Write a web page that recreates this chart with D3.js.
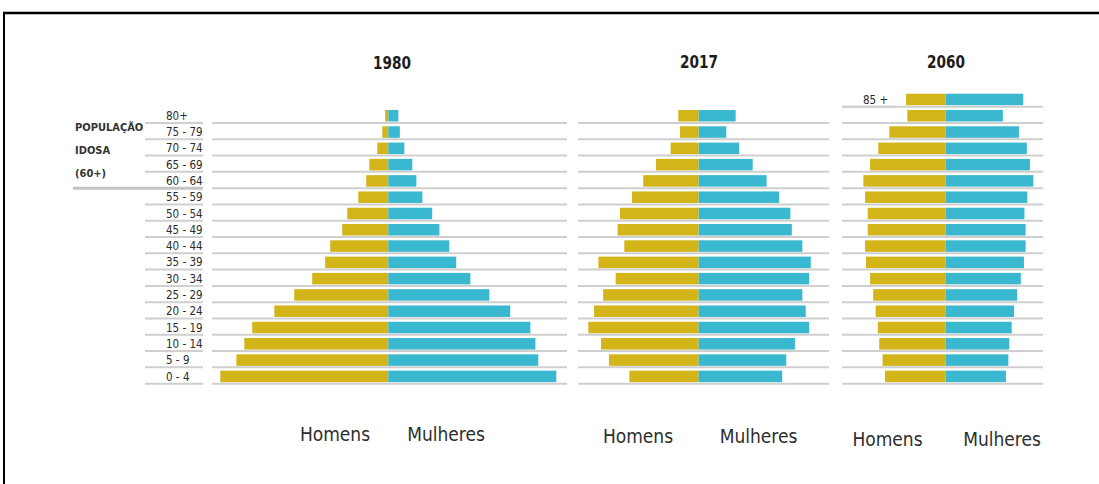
<!DOCTYPE html>
<html>
<head>
<meta charset="utf-8">
<script src="https://cdn.jsdelivr.net/npm/d3@7"></script>
<style>
  body { margin: 0; background: #fff; }
  svg { display: block; }
  text { font-family: "DejaVu Sans Condensed", "DejaVu Sans", sans-serif; fill: #2b2b2b; }
</style>
</head>
<body>
<svg id="chart" width="1099" height="484"></svg>
<script>
// age groups, top to bottom
const ages80 = ["80+", "75 - 79", "70 - 74", "65 - 69", "60 - 64", "55 - 59", "50 - 54", "45 - 49",
  "40 - 44", "35 - 39", "30 - 34", "25 - 29", "20 - 24", "15 - 19", "10 - 14", "5 - 9", "0 - 4"];
const ages85 = ["85 +", "80 - 84"].concat(ages80.slice(1));

// share of population (%)
const male1980   = [0.13, 0.25, 0.46, 0.79, 0.92, 1.25, 1.71, 1.92, 2.42, 2.63, 3.17, 3.92, 4.75, 5.67, 6.00, 6.33, 7.00];
const female1980 = [0.42, 0.48, 0.67, 1.00, 1.17, 1.42, 1.83, 2.13, 2.54, 2.83, 3.42, 4.21, 5.08, 5.92, 6.13, 6.25, 7.00];

const male2017   = [0.85, 0.78, 1.17, 1.78, 2.31, 2.78, 3.28, 3.38, 3.10, 4.18, 3.46, 3.98, 4.36, 4.60, 4.07, 3.74, 2.89];
const female2017 = [1.54, 1.15, 1.68, 2.25, 2.83, 3.35, 3.82, 3.88, 4.32, 4.67, 4.60, 4.32, 4.46, 4.60, 4.01, 3.65, 3.48];

const male2060   = [1.65, 1.60, 2.35, 2.81, 3.15, 3.43, 3.36, 3.25, 3.25, 3.36, 3.32, 3.15, 3.02, 2.92, 2.83, 2.77, 2.63, 2.53];
const female2060 = [3.23, 2.38, 3.05, 3.38, 3.51, 3.65, 3.40, 3.28, 3.33, 3.33, 3.26, 3.13, 2.98, 2.85, 2.75, 2.65, 2.61, 2.51];

const sexLabels = ["Homens", "Mulheres"];
const sideNote = ["POPULAÇÃO", "IDOSA", "(60+)"];

const colMale = "#d3b419";
const colFemale = "#3ab8cf";
const colGrid = "#cfcfcf";

const svg = d3.select("#chart");

// frame (top and left edge only are visible)
svg.append("line").attr("x1", 3).attr("x2", 1099).attr("y1", 13).attr("y2", 13)
  .attr("stroke", "#000").attr("stroke-width", 2.5);
svg.append("line").attr("x1", 4).attr("x2", 4).attr("y1", 12).attr("y2", 484)
  .attr("stroke", "#000").attr("stroke-width", 2);

// one shared row scale; row 0 only used by 2060 (85+)
const nRows = 18;
const rowStep = 16.29;
const y = d3.scaleBand()
  .domain(d3.range(nRows))
  .range([93.7, 93.7 + nRows * rowStep]);
const barH = 11.5;

// one shared value scale (% -> px half width)
const x = d3.scaleLinear().domain([0, 8]).range([0, 192]);

const panels = [
  { year: "1980", ages: ages80, male: male1980, female: female1980, first: 1,
    cx: 388.3, g0: 212, g1: 567, titleX: 392, titleY: 69, footY: 441, hx: 335, mx: 446 },
  { year: "2017", ages: ages80, male: male2017, female: female2017, first: 1,
    cx: 698.7, g0: 578, g1: 829, titleX: 699, titleY: 68, footY: 443, hx: 638, mx: 758.5 },
  { year: "2060", ages: ages85, male: male2060, female: female2060, first: 0,
    cx: 945.7, g0: 842, g1: 1043, titleX: 946, titleY: 68, footY: 446, hx: 887.5, mx: 1002 }
];

panels.forEach(p => {
  const g = svg.append("g").attr("class", "pyr-" + p.year);
  const rows = p.ages.map((a, i) => ({
    age: a, row: i + p.first, m: p.male[i], f: p.female[i]
  }));

  // grid lines under every row
  g.selectAll("line.grid")
    .data(rows)
    .enter().append("line")
    .attr("class", "grid")
    .attr("x1", p.g0).attr("x2", p.g1)
    .attr("y1", d => y(d.row) + 13).attr("y2", d => y(d.row) + 13)
    .attr("stroke", colGrid).attr("stroke-width", 2);

  g.selectAll("rect.male")
    .data(rows)
    .enter().append("rect")
    .attr("class", "male")
    .attr("x", d => p.cx - x(d.m))
    .attr("y", d => y(d.row))
    .attr("width", d => x(d.m))
    .attr("height", barH)
    .attr("fill", colMale);

  g.selectAll("rect.female")
    .data(rows)
    .enter().append("rect")
    .attr("class", "female")
    .attr("x", p.cx)
    .attr("y", d => y(d.row))
    .attr("width", d => x(d.f))
    .attr("height", barH)
    .attr("fill", colFemale);

  g.append("text")
    .attr("x", p.titleX).attr("y", p.titleY)
    .attr("text-anchor", "middle")
    .attr("textLength", 38)
    .attr("lengthAdjust", "spacingAndGlyphs")
    .style("font-weight", "bold")
    .style("font-size", "18px")
    .style("fill", "#1c1c1c")
    .text(p.year);

  g.selectAll("text.sex")
    .data(sexLabels)
    .enter().append("text")
    .attr("class", "sex")
    .attr("x", (d, i) => i === 0 ? p.hx : p.mx)
    .attr("y", p.footY)
    .attr("text-anchor", "middle")
    .style("font-size", "19px")
    .style("fill", "#2e2e2e")
    .text(d => d);
});

// age labels on the left of 1980, with their own short lines
const lab = svg.append("g").attr("class", "ages");
const labRows = ages80.map((a, i) => ({ age: a, row: i + 1 }));

lab.selectAll("line")
  .data(labRows)
  .enter().append("line")
  .attr("x1", d => d.age === "60 - 64" ? 73 : 145)
  .attr("x2", 203)
  .attr("y1", d => y(d.row) + 13).attr("y2", d => y(d.row) + 13)
  .attr("stroke", d => d.age === "60 - 64" ? "#c4c4c4" : colGrid)
  .attr("stroke-width", d => d.age === "60 - 64" ? 3 : 2);

lab.selectAll("text")
  .data(labRows)
  .enter().append("text")
  .attr("x", 166)
  .attr("y", d => y(d.row) + barH / 2)
  .attr("dy", "0.36em")
  .style("font-size", "11.5px")
  .text(d => d.age);

// 85+ label of 2060 with its short line
svg.append("line")
  .attr("x1", 842).attr("x2", 895)
  .attr("y1", y(0) + 13).attr("y2", y(0) + 13)
  .attr("stroke", colGrid).attr("stroke-width", 2);
svg.append("text")
  .attr("x", 863).attr("y", y(0) + barH / 2)
  .attr("dy", "0.36em")
  .style("font-size", "11.5px")
  .text(ages85[0]);

// side note
svg.selectAll("text.note")
  .data(sideNote)
  .enter().append("text")
  .attr("class", "note")
  .attr("x", 75)
  .attr("y", (d, i) => 131 + i * 23)
  .style("font-size", "11px")
  .style("font-weight", "bold")
  .style("fill", "#333")
  .text(d => d);
</script>
</body>
</html>
